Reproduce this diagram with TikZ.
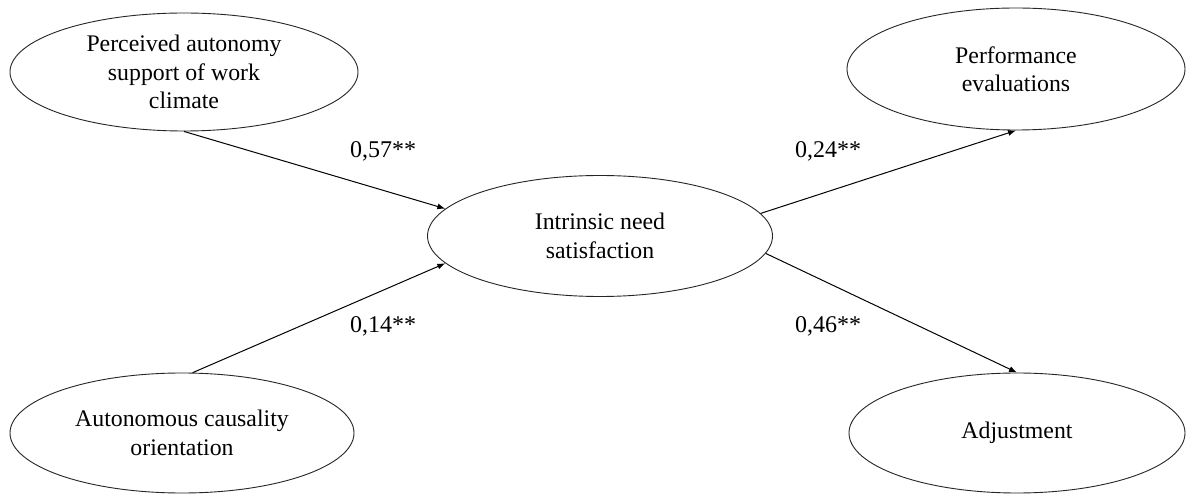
\documentclass[tikz,border=0pt]{standalone}
\usepackage{fontspec}
\setmainfont{Liberation Serif}
\usetikzlibrary{shapes.geometric,arrows.meta}
\tikzset{
  construct/.style={ellipse, draw=black!85, line width=0.9pt, inner sep=0pt,
    align=center, font=\fontsize{23.8}{28.5}\selectfont},
  path/.style={draw=black, line width=1pt, -{Latex[length=8pt,width=6pt]}},
  coef/.style={anchor=base, inner sep=0pt, font=\fontsize{24}{28.5}\selectfont}
}
\begin{document}
\begin{tikzpicture}[x=1pt,y=-1pt]
  \useasboundingbox (0,0) rectangle (1187,494);
  \fill[white] (0,0) rectangle (1187,494);

  % latent constructs
  \node[construct, minimum width=348pt, minimum height=118pt] (clim) at (184,72)
    {Perceived autonomy\\support of work\\climate};
  \node[construct, minimum width=344pt, minimum height=120pt] (caus) at (182,433)
    {Autonomous causality\\orientation};
  \node[construct, minimum width=345pt, minimum height=121pt] (need) at (600,236)
    {Intrinsic need\\satisfaction};
  \node[construct, minimum width=338pt, minimum height=122pt] (perf) at (1016,69)
    {Performance\\evaluations};
  \node[construct, minimum width=336pt, minimum height=120pt] (adj) at (1017,433)
    {Adjustment};

  % structural paths
  \draw[path] (clim.south) -- (need.170);
  \draw[path] (caus.80) -- (need.190);
  \draw[path] (need.8) -- (perf.south);
  \draw[path] (need.-6) -- (adj.north);

  % path coefficients
  \node[coef] (c1) at (383,158) {0,57**};
  \node[coef] (c2) at (383,333) {0,14**};
  \node[coef] (c3) at (828,158) {0,24**};
  \node[coef] (c4) at (828,333) {0,46**};
\end{tikzpicture}
\end{document}
